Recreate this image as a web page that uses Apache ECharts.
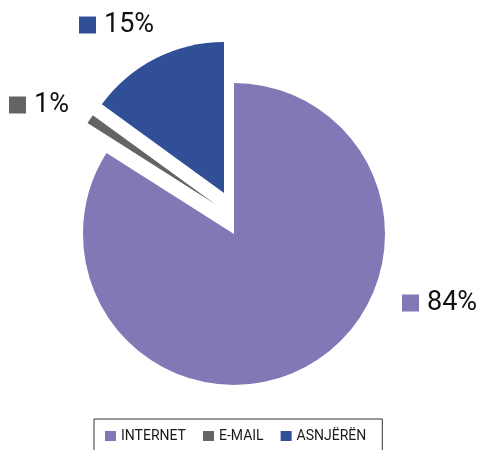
<!DOCTYPE html>
<html>
<head>
<meta charset="utf-8">
<script src="https://cdn.jsdelivr.net/npm/echarts@6/dist/echarts.min.js"></script>
<style>
html,body{margin:0;padding:0;background:#fff;}
#chart{width:481px;height:450px;}
</style>
</head>
<body>
<div id="chart"></div>
<script>
// data
var names = ['INTERNET', 'E-MAIL', 'ASNJËRËN'];
var shares = [84, 1, 15];
var colors = ['#8079b6', '#646464', '#304f97'];

var font = 'Roboto, "Noto Sans", sans-serif';
// each slice is drawn by its own series so it can be pulled out by its own amount
var centers = [[234, 234], [215, 204], [224, 193]];
var labelPos = [[402, 303], [9, 105], [79, 25]];

var chart = echarts.init(document.getElementById('chart'));

var series = [];
for (var k = 0; k < names.length; k++) {
  (function (k) {
    series.push({
      type: 'pie',
      center: centers[k],
      radius: 151,
      startAngle: 90,
      clockwise: true,
      silent: true,
      avoidLabelOverlap: false,
      itemStyle: { borderWidth: 0 },
      labelLine: { show: false },
      label: {
        position: 'outside',
        formatter: function (p) { return '{sq|}{t|' + p.value + '%}'; },
        rich: {
          sq: { width: 17, height: 17, backgroundColor: colors[k] },
          t: { fontSize: 27, fontFamily: font, color: '#111', padding: [0, 0, 0, 8] }
        }
      },
      labelLayout: function () {
        return { x: labelPos[k][0], y: labelPos[k][1], align: 'left', verticalAlign: 'middle' };
      },
      data: names.map(function (n, i) {
        return {
          name: n,
          value: shares[i],
          itemStyle: { color: colors[i], opacity: i === k ? 1 : 0 },
          label: { show: i === k }
        };
      })
    });
  })(k);
}

chart.setOption({
  animation: false,
  legend: {
    left: 94,
    top: 419,
    orient: 'horizontal',
    icon: 'rect',
    itemWidth: 11,
    itemHeight: 10,
    itemGap: 17,
    padding: [10, 16, 8, 11],
    borderColor: '#333',
    borderWidth: 1,
    textStyle: { fontSize: 14, fontFamily: font, color: '#1a1a1a' },
    data: names.map(function (n, i) {
      return { name: n, itemStyle: { color: colors[i], opacity: 1 } };
    })
  },
  series: series
});
</script>
</body>
</html>
